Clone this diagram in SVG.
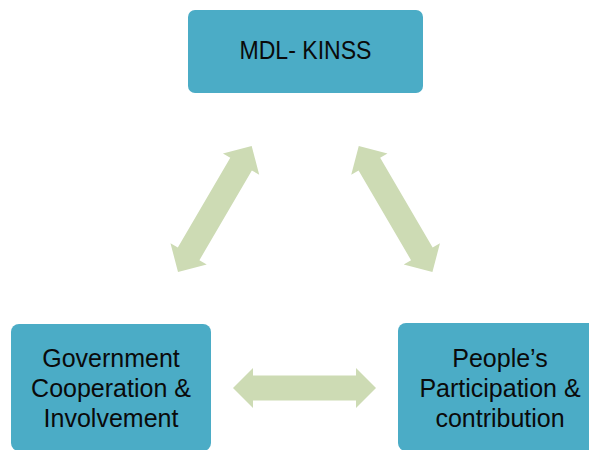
<svg xmlns="http://www.w3.org/2000/svg" width="589" height="450" viewBox="0 0 589 450">
  <style>
    .box { fill: #4BACC6; }
    .lbl { font-family: "Liberation Sans", Arial, sans-serif; font-size: 25px; fill: #0a0a0a; text-anchor: middle; }
    .arr { fill: #CDDBB4; }
  </style>
  <rect width="589" height="450" fill="#ffffff"/>
  <g id="connectors">
    <polygon class="arr" transform="translate(214.85,209) rotate(-59.7)" points="-73,0 -52,-21 -52,-12.5 52,-12.5 52,-21 73,0 52,21 52,12.5 -52,12.5 -52,21"/>
    <polygon class="arr" transform="translate(395.6,209) rotate(59.7)" points="-73,0 -52,-21 -52,-12.5 52,-12.5 52,-21 73,0 52,21 52,12.5 -52,12.5 -52,21"/>
    <polygon class="arr" transform="translate(304.5,388)" points="-71.5,0 -51.5,-20 -51.5,-12.5 51.5,-12.5 51.5,-20 71.5,0 51.5,20 51.5,12.5 -51.5,12.5 -51.5,20"/>
  </g>
  <g id="node-mdl">
    <rect class="box" x="188" y="10" width="235" height="83" rx="7"/>
    <text class="lbl" x="305.5" y="59" textLength="132" lengthAdjust="spacingAndGlyphs">MDL- KINSS</text>
  </g>
  <g id="node-government">
    <rect class="box" x="11" y="324" width="200" height="127" rx="8"/>
    <text class="lbl" x="111" y="367">Government</text>
    <text class="lbl" x="111" y="397">Cooperation &amp;</text>
    <text class="lbl" x="111" y="426.5">Involvement</text>
  </g>
  <g id="node-people">
    <rect class="box" x="398" y="323" width="204" height="128" rx="8"/>
    <text class="lbl" x="500" y="367">People’s</text>
    <text class="lbl" x="500" y="397">Participation &amp;</text>
    <text class="lbl" x="500" y="426.5">contribution</text>
  </g>
</svg>
